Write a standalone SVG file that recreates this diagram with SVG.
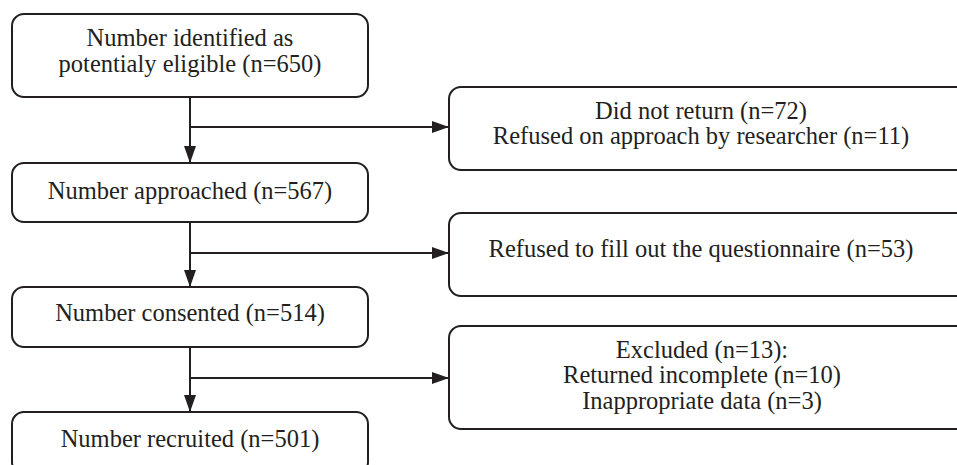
<svg xmlns="http://www.w3.org/2000/svg" width="957" height="465" viewBox="0 0 957 465">
<style>
.box{fill:#fff;stroke:#231f20;stroke-width:2}
.t{font-family:"Liberation Serif","Times New Roman",serif;font-size:24.5px;fill:#231f20;text-anchor:middle}
.c{fill:none;stroke:#231f20;stroke-width:2}
</style>
<defs>
<marker id="ah" viewBox="0 0 17 12" refX="17" refY="6" markerWidth="17" markerHeight="12" markerUnits="userSpaceOnUse" orient="auto">
<path d="M0,0 L17,6 L0,12 Z" fill="#231f20"/>
</marker>
</defs>
<rect width="957" height="465" fill="#fff"/>
<g id="connectors">
<path class="c" d="M190,97 V163" marker-end="url(#ah)"/>
<path class="c" d="M190,127 H449" marker-end="url(#ah)"/>
<path class="c" d="M190,222 V287" marker-end="url(#ah)"/>
<path class="c" d="M190,253 H449" marker-end="url(#ah)"/>
<path class="c" d="M190,347 V412" marker-end="url(#ah)"/>
<path class="c" d="M190,378 H449" marker-end="url(#ah)"/>
</g>
<g id="n1">
<rect class="box" x="12" y="14" width="356" height="83" rx="12"/>
<text class="t" x="190" y="46">Number identified as</text>
<text class="t" x="190" y="72">potentialy eligible (n=650)</text>
</g>
<g id="n2">
<rect class="box" x="12" y="163" width="356" height="59" rx="12"/>
<text class="t" x="190" y="199">Number approached (n=567)</text>
</g>
<g id="n3">
<rect class="box" x="12" y="287" width="356" height="60" rx="12"/>
<text class="t" x="190" y="321">Number consented (n=514)</text>
</g>
<g id="n4">
<rect class="box" x="12" y="412" width="356" height="62" rx="12"/>
<text class="t" x="190" y="447">Number recruited (n=501)</text>
</g>
<g id="r1">
<rect class="box" x="449" y="87" width="520" height="83" rx="12"/>
<text class="t" x="701" y="119">Did not return (n=72)</text>
<text class="t" x="701" y="144">Refused on approach by researcher (n=11)</text>
</g>
<g id="r2">
<rect class="box" x="449" y="213" width="520" height="83" rx="12"/>
<text class="t" x="701" y="257">Refused to fill out the questionnaire (n=53)</text>
</g>
<g id="r3">
<rect class="box" x="449" y="326" width="520" height="103" rx="12"/>
<text class="t" x="702" y="358">Excluded (n=13):</text>
<text class="t" x="702" y="383">Returned incomplete (n=10)</text>
<text class="t" x="702" y="409">Inappropriate data (n=3)</text>
</g>
</svg>
